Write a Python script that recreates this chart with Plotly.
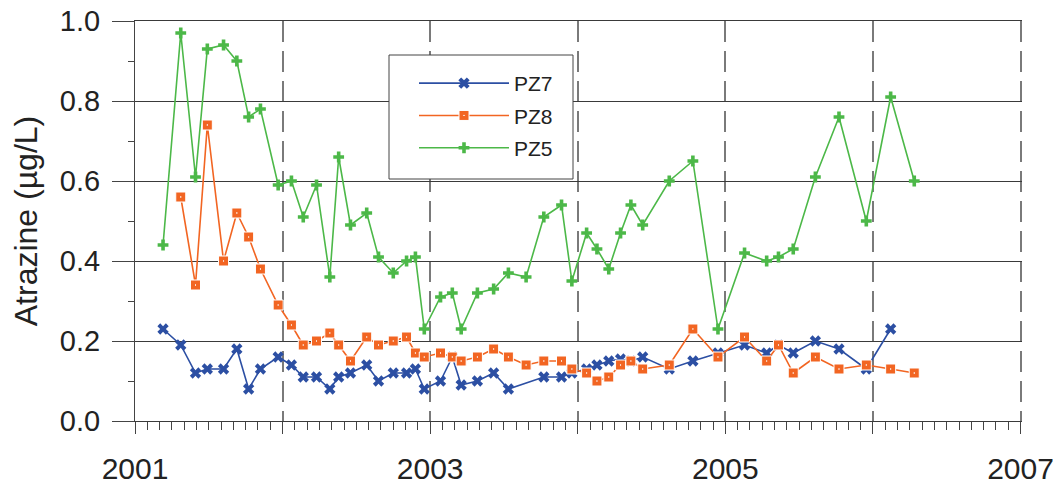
import plotly.graph_objects as go

# Sampling dates (decimal years)
dates = [2001.19, 2001.31, 2001.41, 2001.49, 2001.60, 2001.69, 2001.77, 2001.85, 2001.97,
         2002.06, 2002.14, 2002.23, 2002.32, 2002.38, 2002.46, 2002.57, 2002.65, 2002.75,
         2002.84, 2002.90, 2002.96, 2003.07, 2003.15, 2003.21, 2003.32, 2003.43, 2003.53,
         2003.65, 2003.77, 2003.89, 2003.96, 2004.06, 2004.13, 2004.21, 2004.29, 2004.36,
         2004.44, 2004.62, 2004.78, 2004.95, 2005.13, 2005.28, 2005.36, 2005.46, 2005.61,
         2005.77, 2005.955, 2006.12, 2006.28]

pz7 = [0.23, 0.19, 0.12, 0.13, 0.13, 0.18, 0.08, 0.13, 0.16,
       0.14, 0.11, 0.11, 0.08, 0.11, 0.12, 0.14, 0.10, 0.12,
       0.12, 0.13, 0.08, 0.10, 0.16, 0.09, 0.10, 0.12, 0.08,
       None, 0.11, 0.11, 0.12, 0.13, 0.14, 0.15, 0.155, 0.15,
       0.16, 0.13, 0.15, 0.17, 0.19, 0.17, 0.19, 0.17, 0.20,
       0.18, 0.13, 0.23, None]

pz8 = [None, 0.56, 0.34, 0.74, 0.40, 0.52, 0.46, 0.38, 0.29,
       0.24, 0.19, 0.20, 0.22, 0.19, 0.15, 0.21, 0.19, 0.20,
       0.21, 0.17, 0.16, 0.17, 0.16, 0.15, 0.16, 0.18, 0.16,
       0.14, 0.15, 0.15, 0.13, 0.12, 0.10, 0.11, 0.14, 0.15,
       0.13, 0.14, 0.23, 0.16, 0.21, 0.15, 0.19, 0.12, 0.16,
       0.13, 0.14, 0.13, 0.12]

pz5 = [0.44, 0.97, 0.61, 0.93, 0.94, 0.90, 0.76, 0.78, 0.59,
       0.60, 0.51, 0.59, 0.36, 0.66, 0.49, 0.52, 0.41, 0.37,
       0.40, 0.41, 0.23, 0.31, 0.32, 0.23, 0.32, 0.33, 0.37,
       0.36, 0.51, 0.54, 0.35, 0.47, 0.43, 0.38, 0.47, 0.54,
       0.49, 0.60, 0.65, 0.23, 0.42, 0.40, 0.41, 0.43, 0.61,
       0.76, 0.50, 0.81, 0.60]

series_names = ["PZ7", "PZ8", "PZ5"]
year_ticks = [2001, 2002, 2003, 2004, 2005, 2006, 2007]
year_labels = ["2001", "", "2003", "", "2005", "", "2007"]
y_ticks = [0.0, 0.2, 0.4, 0.6, 0.8, 1.0]
y_labels = ["0.0", "0.2", "0.4", "0.6", "0.8", "1.0"]

FONT = "Liberation Sans, Arial, sans-serif"
colors = ["#2c4fa3", "#f26522", "#4cb848"]
symbols = ["x", "square-dot", "cross"]
sizes = [10, 10, 9]

fig = go.Figure()
for name, vals, c, s, sz in zip(series_names, [pz7, pz8, pz5], colors, symbols, sizes):
    fig.add_trace(go.Scatter(
        x=dates, y=vals, name=name, mode="lines+markers", connectgaps=True,
        legendgroup=name,
        line=dict(color=c, width=1.6),
        marker=dict(symbol=s, size=sz, color=c,
                    line=dict(color="white" if s == "square-dot" else c,
                              width=1 if s == "square-dot" else 0)),
    ))

# page body has an 8px margin: work in absolute screen pixels and shift
OFF = 8
W, H = 1061 - OFF, 495 - OFF
PL, PR, PT, PB = 135, 1022, 21, 421   # absolute plot-area edges
L = PL - OFF
R = W - (PR - OFF)
T = PT - OFF
B = H - (PB - OFF)
pw = PR - PL
ph = PB - PT

def px2paper_x(px):
    return (px - PL) / pw

def px2paper_y(py):
    return (PB - py) / ph

# legend box (white, bordered)
fig.add_shape(type="rect", xref="paper", yref="paper",
              x0=px2paper_x(389), x1=px2paper_x(573),
              y0=px2paper_y(179), y1=px2paper_y(55),
              fillcolor="white", line=dict(color="#444", width=1), layer="above")

fig.update_layout(
    width=W, height=H,
    margin=dict(l=L, r=R, t=T, b=B, autoexpand=False),
    paper_bgcolor="white", plot_bgcolor="white",
    font=dict(family=FONT, color="#222"),
    legend=dict(x=px2paper_x(414), y=px2paper_y(63), xanchor="left", yanchor="top",
                bgcolor="rgba(0,0,0,0)", borderwidth=0,
                font=dict(size=21, family=FONT, color="#222"),
                itemwidth=90, tracegroupgap=2, itemsizing="trace"),
    showlegend=True,
)

fig.update_xaxes(
    range=[2001, 2007.01], tickmode="array", tickvals=year_ticks, ticktext=year_labels,
    showgrid=True, gridcolor="#7a7a7a", gridwidth=1.5, griddash="21px,9px",
    showline=True, linecolor="#3a3a3a", linewidth=1, zeroline=False, mirror=True,
    ticks="outside", ticklen=12, tickcolor="#444", tickwidth=1,
    tickfont=dict(size=30, family=FONT, color="#222"), ticklabelstandoff=9,
    ticklabeloverflow="allow",
    minor=dict(dtick=1/12, tick0=2001, ticks="outside", ticklen=8, tickcolor="#444",
               showgrid=False),
)
fig.update_yaxes(
    range=[0, 1], tickmode="array", tickvals=y_ticks, ticktext=y_labels,
    showgrid=True, gridcolor="#3a3a3a", gridwidth=1,
    showline=True, linecolor="#444", linewidth=1, zeroline=False,
    ticks="outside", ticklen=22, tickcolor="#444", tickwidth=1,
    tickfont=dict(size=29, family=FONT, color="#222"), ticklabelstandoff=6,
    ticklabeloverflow="allow",
    minor=dict(dtick=0.1, tick0=0, ticks="outside", ticklen=6, tickcolor="#444",
               showgrid=False),
    title=dict(text="Atrazine (µg/L)", font=dict(size=32, family=FONT, color="#222"),
               standoff=20),
    automargin=False,
)

fig.write_html("out.html")
